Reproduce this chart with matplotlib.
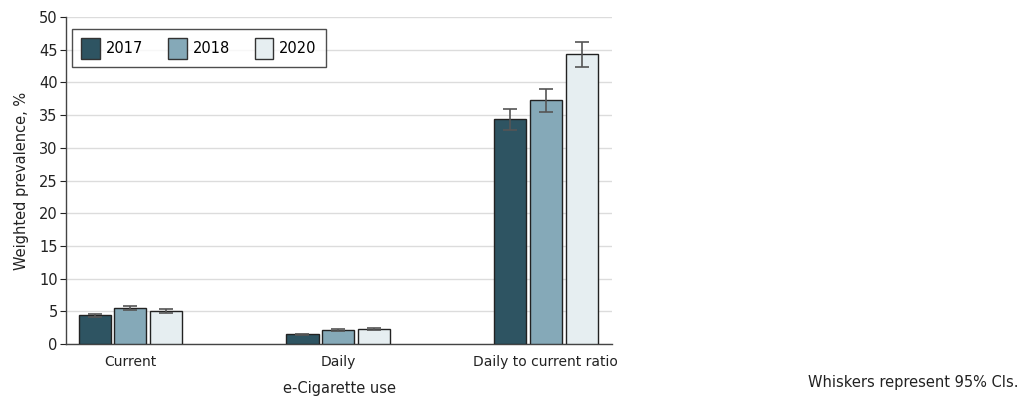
import numpy as np
from matplotlib import pyplot as plt
from matplotlib.patches import Patch

plt.rcParams['font.family'] = ['Liberation Sans Narrow', 'DejaVu Sans']

categories = ['Current', 'Daily', 'Daily to current ratio']
years = ['2017', '2018', '2020']
values_2017 = [4.4, 1.5, 34.4]
values_2018 = [5.5, 2.1, 37.3]
values_2020 = [5.0, 2.3, 44.3]
low_2017 = [4.2, 1.4, 32.8]
high_2017 = [4.6, 1.6, 35.9]
low_2018 = [5.25, 1.95, 35.5]
high_2018 = [5.75, 2.25, 39.0]
low_2020 = [4.7, 2.1, 42.4]
high_2020 = [5.3, 2.5, 46.2]

colors = ['#2e5462', '#85a9b8', '#e6eef1']
series = [
    (values_2017, low_2017, high_2017),
    (values_2018, low_2018, high_2018),
    (values_2020, low_2020, high_2020),
]

fig = plt.figure(figsize=(10.31, 3.98), dpi=100)
ax = fig.add_axes([0.064, 0.1357, 0.53, 0.8213])

x = np.arange(len(categories))
step = 0.172
width = 0.155
for i, (vals, lo, hi) in enumerate(series):
    pos = x + (i - 1) * step
    vals = np.array(vals)
    yerr = [vals - np.array(lo), np.array(hi) - vals]
    ax.bar(pos, vals, width=width, color=colors[i], edgecolor='#222222', linewidth=1.0, zorder=3)
    ax.errorbar(pos, vals, yerr=yerr, fmt='none', ecolor='#555555', elinewidth=1.2,
                capsize=4.7, capthick=1.2, zorder=4)

ax.set_xlim(-0.31, 2.32)
ax.set_ylim(0, 50)
ax.set_yticks(range(0, 51, 5))
ax.set_xticks(x, categories)
ax.tick_params(axis='x', length=0, pad=8, labelsize=10, colors='#222222')
ax.tick_params(axis='y', length=4, width=0.8, pad=2, labelsize=10.5, colors='#222222')
ax.yaxis.grid(True, color='#dcdcdc', linewidth=1.0, zorder=0)
ax.set_axisbelow(True)
for side in ['top', 'right']:
    ax.spines[side].set_visible(False)
for side in ['left', 'bottom']:
    ax.spines[side].set_color('#444444')
    ax.spines[side].set_linewidth(1.0)

ax.set_ylabel('Weighted prevalence, %', fontsize=10.5, color='#222222', labelpad=7)
ax.set_xlabel('e-Cigarette use', fontsize=10.5, color='#222222', labelpad=8.5)

handles = [Patch(facecolor=c, edgecolor='#333333', label=y) for c, y in zip(colors, years)]
leg = ax.legend(handles=handles, loc='upper left', ncol=3, fontsize=10.5, frameon=True,
                fancybox=False, edgecolor='#222222', bbox_to_anchor=(0.011, 0.963),
                borderaxespad=0, handlelength=1.3, handleheight=1.8, handletextpad=0.4,
                columnspacing=1.7, borderpad=0.6)
leg.get_frame().set_linewidth(1.0)

fig.text(0.988, 0.040, 'Whiskers represent 95% CIs.', ha='right', va='center', fontsize=10.5, color='#222222')

fig.savefig('out.png', dpi=100)
